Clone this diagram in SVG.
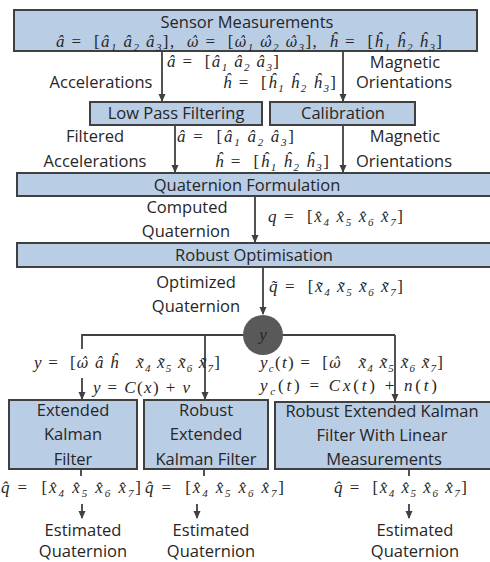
<svg xmlns="http://www.w3.org/2000/svg" width="490" height="562" viewBox="0 0 490 562">
<style>
.box{fill:#b9cde5;stroke:#404040;stroke-width:2}
.t{font-family:"Open Sans","Liberation Sans",sans-serif;font-size:16.5px;fill:#262626;text-anchor:middle}
.m{font-family:"Liberation Serif","DejaVu Serif",serif;font-style:italic;font-size:17px;fill:#262626}
.n{font-style:normal}
.w{font-family:"DejaVu Serif",serif;font-size:14px}
.s{font-size:11px;baseline-shift:-3.5px}
.c{stroke:#404040;stroke-width:1.8;fill:none}
</style>
<defs>
<marker id="ah" markerWidth="8" markerHeight="8" refX="7" refY="4" orient="auto" markerUnits="userSpaceOnUse">
<path d="M0,0.5 L8,4 L0,7.5 Z" fill="#404040"/>
</marker>
</defs>
<rect width="490" height="562" fill="#ffffff"/>

<g id="connectors">
<line class="c" x1="162" y1="51" x2="162" y2="101" marker-end="url(#ah)"/>
<line class="c" x1="343" y1="51" x2="343" y2="101" marker-end="url(#ah)"/>
<line class="c" x1="175" y1="126" x2="175" y2="172" marker-end="url(#ah)"/>
<line class="c" x1="343" y1="126" x2="343" y2="172" marker-end="url(#ah)"/>
<line class="c" x1="255" y1="197" x2="255" y2="242" marker-end="url(#ah)"/>
<line class="c" x1="263" y1="268" x2="263" y2="314" marker-end="url(#ah)"/>
<polyline class="c" points="82,349 82,335 395,335"/>
<line class="c" x1="395" y1="335" x2="395" y2="401" marker-end="url(#ah)"/>
<line class="c" x1="205" y1="335" x2="205" y2="399" marker-end="url(#ah)"/>
<line class="c" x1="82" y1="378" x2="82" y2="399" marker-end="url(#ah)"/>
<line class="c" x1="81" y1="470" x2="81" y2="476"/>
<line class="c" x1="204" y1="470" x2="204" y2="476"/>
<line class="c" x1="409" y1="470" x2="409" y2="476"/>
<line class="c" x1="82" y1="504" x2="82" y2="518" marker-end="url(#ah)"/>
<line class="c" x1="197" y1="504" x2="197" y2="518" marker-end="url(#ah)"/>
<line class="c" x1="409" y1="504" x2="409" y2="518" marker-end="url(#ah)"/>
</g>

<g id="sensor">
<rect class="box" x="14" y="10" width="463" height="41"/>
<text class="t" x="247" y="28">Sensor Measurements</text>
<text class="m" x="56" y="47" font-size="16" textLength="386" lengthAdjust="spacing">â&#160;<tspan class="n">=&#160;&#160;[</tspan>â<tspan class="s">1</tspan> â<tspan class="s">2</tspan> â<tspan class="s">3</tspan><tspan class="n">],&#160; </tspan><tspan class="w">ω̂</tspan>&#160;<tspan class="n">=&#160;&#160;[</tspan><tspan class="w">ω̂</tspan><tspan class="s">1</tspan> <tspan class="w">ω̂</tspan><tspan class="s">2</tspan> <tspan class="w">ω̂</tspan><tspan class="s">3</tspan><tspan class="n">],&#160; </tspan>ĥ&#160;<tspan class="n">=&#160;&#160;[</tspan>ĥ<tspan class="s">1</tspan> ĥ<tspan class="s">2</tspan> ĥ<tspan class="s">3</tspan><tspan class="n">]</tspan></text>
</g>

<g id="labels1">
<text class="m" x="167" y="67" textLength="112" lengthAdjust="spacing">â&#160;<tspan class="n">=&#160;&#160;[</tspan>â<tspan class="s">1</tspan> â<tspan class="s">2</tspan> â<tspan class="s">3</tspan><tspan class="n">]</tspan></text>
<text class="t" x="405" y="68">Magnetic</text>
<text class="t" x="101" y="88">Accelerations</text>
<text class="m" x="223" y="88" textLength="113" lengthAdjust="spacing">ĥ&#160;<tspan class="n">=&#160;&#160;[</tspan>ĥ<tspan class="s">1</tspan> ĥ<tspan class="s">2</tspan> ĥ<tspan class="s">3</tspan><tspan class="n">]</tspan></text>
<text class="t" x="404" y="88">Orientations</text>
</g>

<g id="lowpass">
<rect class="box" x="90" y="102" width="172" height="23"/>
<text class="t" x="176" y="119">Low Pass Filtering</text>
</g>
<g id="calibration">
<rect class="box" x="270" y="102" width="145" height="23"/>
<text class="t" x="343" y="119">Calibration</text>
</g>

<g id="labels2">
<text class="t" x="95" y="142">Filtered</text>
<text class="t" x="95" y="167">Accelerations</text>
<text class="m" x="177" y="142" textLength="117" lengthAdjust="spacing">â&#160;<tspan class="n">=&#160;&#160;[</tspan>â<tspan class="s">1</tspan> â<tspan class="s">2</tspan> â<tspan class="s">3</tspan><tspan class="n">]</tspan></text>
<text class="m" x="215" y="167" textLength="114" lengthAdjust="spacing">ĥ&#160;<tspan class="n">=&#160;&#160;[</tspan>ĥ<tspan class="s">1</tspan> ĥ<tspan class="s">2</tspan> ĥ<tspan class="s">3</tspan><tspan class="n">]</tspan></text>
<text class="t" x="405" y="142">Magnetic</text>
<text class="t" x="404" y="167">Orientations</text>
</g>

<g id="formulation">
<rect class="box" x="17" y="173" width="480" height="23"/>
<text class="t" x="247" y="191">Quaternion Formulation</text>
</g>

<g id="labels3">
<text class="t" x="187" y="213">Computed</text>
<text class="t" x="186" y="237">Quaternion</text>
<text class="m" x="268" y="222" textLength="135" lengthAdjust="spacing">q&#160;<tspan class="n">=&#160;&#160;[</tspan>x̂<tspan class="s">4</tspan> x̂<tspan class="s">5</tspan> x̂<tspan class="s">6</tspan> x̂<tspan class="s">7</tspan><tspan class="n">]</tspan></text>
</g>

<g id="optimisation">
<rect class="box" x="17" y="243" width="480" height="24"/>
<text class="t" x="254" y="261">Robust Optimisation</text>
</g>

<g id="labels4">
<text class="t" x="196" y="288">Optimized</text>
<text class="t" x="196" y="312">Quaternion</text>
<text class="m" x="269" y="292" textLength="134" lengthAdjust="spacing">q̃&#160;<tspan class="n">=&#160;&#160;[</tspan>x̃<tspan class="s">4</tspan> x̃<tspan class="s">5</tspan> x̃<tspan class="s">6</tspan> x̃<tspan class="s">7</tspan><tspan class="n">]</tspan></text>
</g>

<g id="ynode">
<circle cx="263" cy="335" r="20" fill="#595959"/>
<text class="m" x="263" y="340" text-anchor="middle" font-size="18" fill="#1a1a1a">y</text>
</g>

<g id="labels5">
<text class="m" x="34" y="368" textLength="186" lengthAdjust="spacing">y&#160;<tspan class="n">=&#160;&#160;[</tspan><tspan class="w">ω̂</tspan> â ĥ&#160;&#160; x̃<tspan class="s">4</tspan> x̃<tspan class="s">5</tspan> x̃<tspan class="s">6</tspan> x̃<tspan class="s">7</tspan><tspan class="n">]</tspan></text>
<text class="m" x="93" y="393" textLength="97" lengthAdjust="spacing">y&#160;<tspan class="n">= </tspan>C<tspan class="n">(</tspan>x<tspan class="n">) + </tspan>v</text>
<text class="m" x="260" y="368" textLength="183" lengthAdjust="spacing">y<tspan class="s">c</tspan><tspan class="n">(</tspan>t<tspan class="n">) =&#160;&#160;[</tspan><tspan class="w">ω̂</tspan>&#160;&#160; x̃<tspan class="s">4</tspan> x̃<tspan class="s">5</tspan> x̃<tspan class="s">6</tspan> x̃<tspan class="s">7</tspan><tspan class="n">]</tspan></text>
<text class="m" x="260" y="391" textLength="177" lengthAdjust="spacing">y<tspan class="s">c</tspan><tspan class="n">(</tspan>t<tspan class="n">) = </tspan>Cx<tspan class="n">(</tspan>t<tspan class="n">) + </tspan>n<tspan class="n">(</tspan>t<tspan class="n">)</tspan></text>
</g>

<g id="ekf">
<rect class="box" x="9" y="400" width="128" height="69"/>
<text class="t" x="73" y="416">Extended</text>
<text class="t" x="73" y="440">Kalman</text>
<text class="t" x="73" y="465">Filter</text>
</g>
<g id="rekf">
<rect class="box" x="144" y="400" width="124" height="69"/>
<text class="t" x="206" y="416">Robust</text>
<text class="t" x="206" y="440">Extended</text>
<text class="t" x="206" y="465">Kalman Filter</text>
</g>
<g id="rekf-linear">
<rect class="box" x="275" y="402" width="222" height="67"/>
<text class="t" x="382" y="417">Robust Extended Kalman</text>
<text class="t" x="382" y="441">Filter With Linear</text>
<text class="t" x="384" y="465">Measurements</text>
</g>

<g id="outputs">
<text class="m" x="1" y="493" textLength="140" lengthAdjust="spacing">q̂&#160;<tspan class="n">=&#160;&#160;[</tspan>x̂<tspan class="s">4</tspan> x̂<tspan class="s">5</tspan> x̂<tspan class="s">6</tspan> x̂<tspan class="s">7</tspan><tspan class="n">]</tspan></text>
<text class="m" x="145" y="493" textLength="139" lengthAdjust="spacing">q̂&#160;<tspan class="n">=&#160;&#160;[</tspan>x̂<tspan class="s">4</tspan> x̂<tspan class="s">5</tspan> x̂<tspan class="s">6</tspan> x̂<tspan class="s">7</tspan><tspan class="n">]</tspan></text>
<text class="m" x="334" y="493" textLength="133" lengthAdjust="spacing">q̂&#160;<tspan class="n">=&#160;&#160;[</tspan>x̂<tspan class="s">4</tspan> x̂<tspan class="s">5</tspan> x̂<tspan class="s">6</tspan> x̂<tspan class="s">7</tspan><tspan class="n">]</tspan></text>
</g>

<g id="est1">
<text class="t" x="83" y="536">Estimated</text>
<text class="t" x="83" y="557">Quaternion</text>
</g>
<g id="est2">
<text class="t" x="211" y="536">Estimated</text>
<text class="t" x="211" y="557">Quaternion</text>
</g>
<g id="est3">
<text class="t" x="415" y="536">Estimated</text>
<text class="t" x="415" y="557">Quaternion</text>
</g>
</svg>
